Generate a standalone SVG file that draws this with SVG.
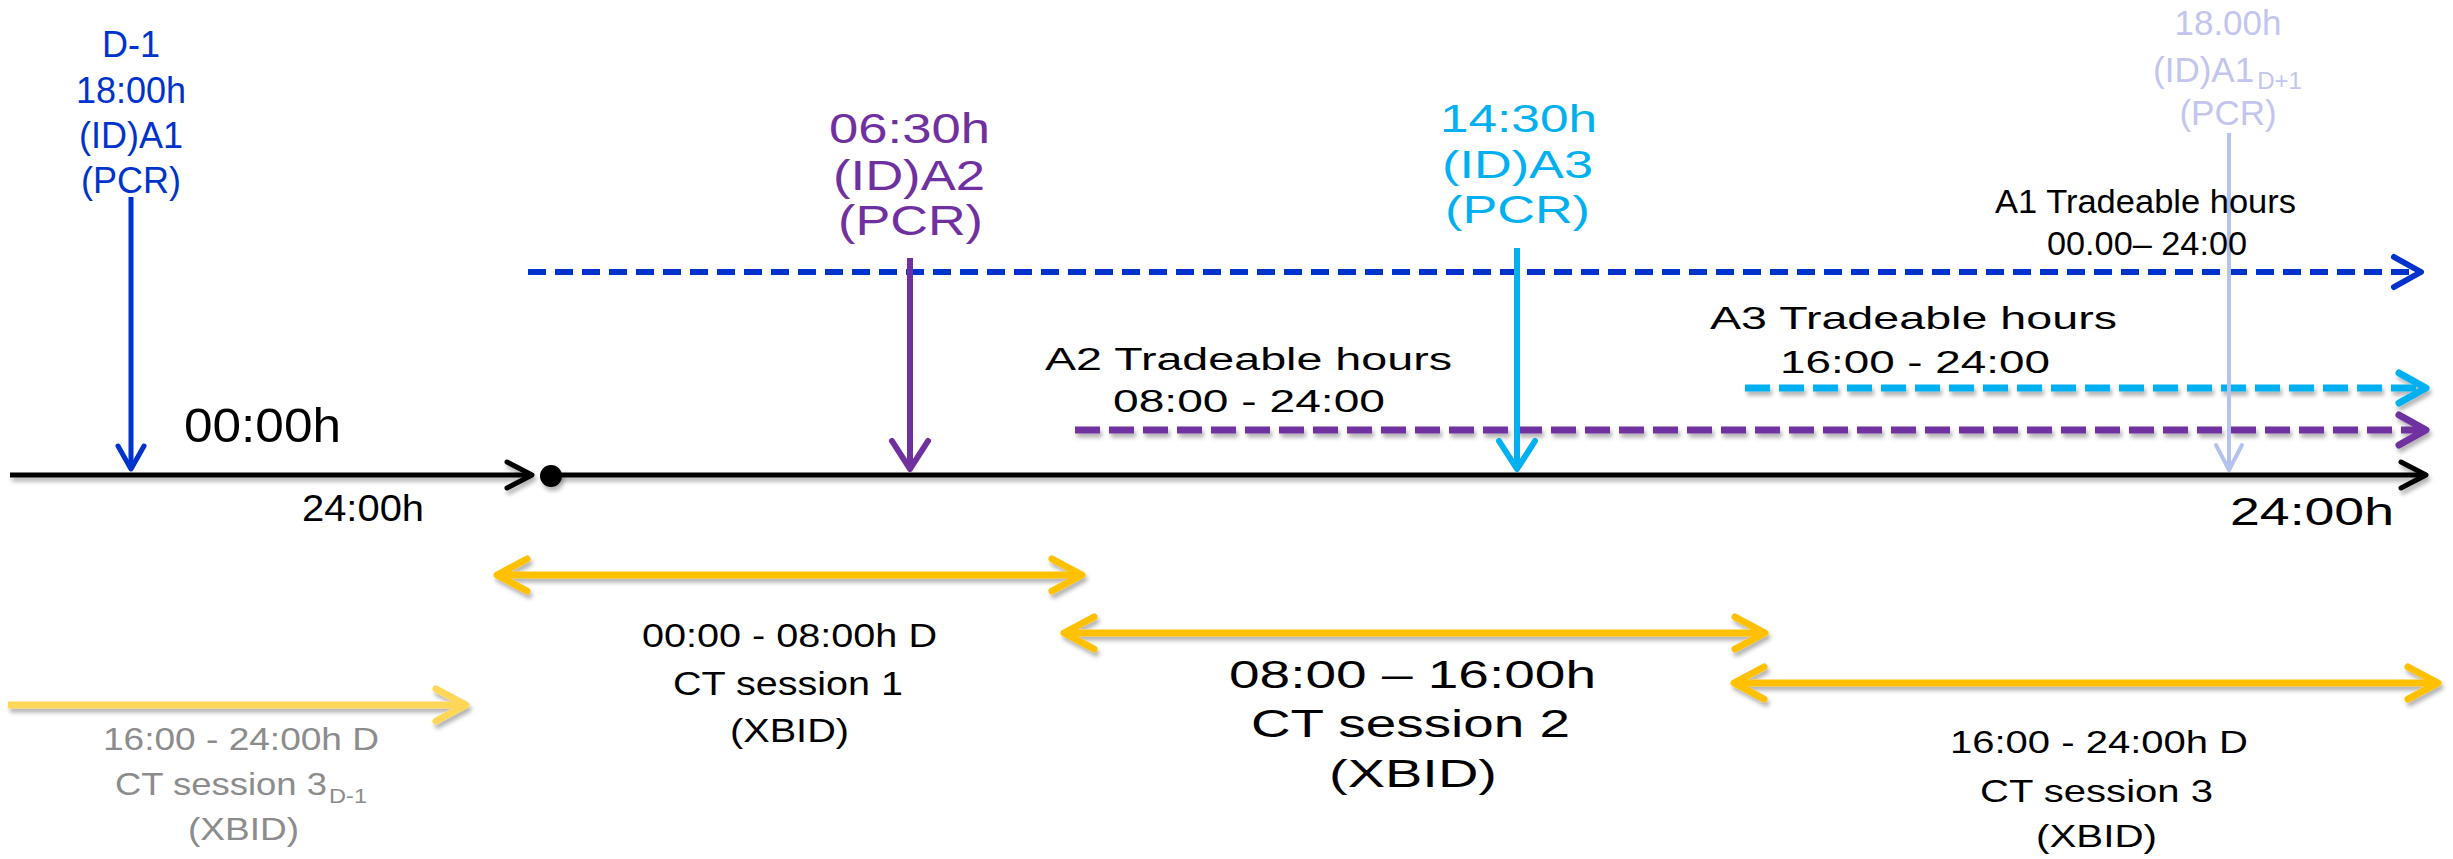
<svg xmlns="http://www.w3.org/2000/svg" width="2453" height="859" viewBox="0 0 2453 859">
<style>
text{font-family:"Liberation Sans",Arial,sans-serif}
.blue{fill:#0033CC}.purple{fill:#7030A0}.cyan{fill:#00B0F0}.lav{fill:#C3C5EF}.blk{fill:#000}.gray{fill:#8C8C8C}
.mid{text-anchor:middle}
.axis{stroke:#000;stroke-width:5;fill:none}
.vb{stroke:#0033CC;stroke-width:5;fill:none}
.vp{stroke:#7030A0;stroke-width:6;fill:none}
.vc{stroke:#00B0F0;stroke-width:6;fill:none}
.vl{stroke:#B4C2EE;stroke-width:4;fill:none}
.db{stroke:#0033CC;stroke-width:6;stroke-dasharray:18 9;fill:none}
.dp{stroke:#7030A0;stroke-width:7;stroke-dasharray:25 9;fill:none}
.dc{stroke:#00B0F0;stroke-width:7;stroke-dasharray:25 9;fill:none}
.gold{stroke:#FFC000;stroke-width:7;fill:none}
.goldl{stroke:#FFD657;stroke-width:7;fill:none}
</style>
<defs>
<filter id="sh" filterUnits="userSpaceOnUse" x="0" y="0" width="2453" height="859">
<feDropShadow dx="2" dy="4" stdDeviation="2" flood-color="#000" flood-opacity="0.3"/>
</filter>
<marker id="m-axis" markerUnits="userSpaceOnUse" viewBox="-40 -20 50 40" markerWidth="50" markerHeight="40" refX="0" refY="0" orient="auto" overflow="visible">
<path d="M-25,-13 L0,0 L-25,13" fill="none" stroke="#000" stroke-width="5" stroke-linecap="round" stroke-linejoin="round"/></marker>
<marker id="m-vb" markerUnits="userSpaceOnUse" viewBox="-40 -20 50 40" markerWidth="50" markerHeight="40" refX="0" refY="0" orient="auto" overflow="visible">
<path d="M-23,-13 L0,0 L-23,13" fill="none" stroke="#0033CC" stroke-width="5" stroke-linecap="round" stroke-linejoin="round"/></marker>
<marker id="m-vp" markerUnits="userSpaceOnUse" viewBox="-40 -20 50 40" markerWidth="50" markerHeight="40" refX="0" refY="0" orient="auto" overflow="visible">
<path d="M-28,-18 L0,0 L-28,18" fill="none" stroke="#7030A0" stroke-width="6" stroke-linecap="round" stroke-linejoin="round"/></marker>
<marker id="m-vc" markerUnits="userSpaceOnUse" viewBox="-40 -20 50 40" markerWidth="50" markerHeight="40" refX="0" refY="0" orient="auto" overflow="visible">
<path d="M-28,-18 L0,0 L-28,18" fill="none" stroke="#00B0F0" stroke-width="6" stroke-linecap="round" stroke-linejoin="round"/></marker>
<marker id="m-vl" markerUnits="userSpaceOnUse" viewBox="-40 -20 50 40" markerWidth="50" markerHeight="40" refX="0" refY="0" orient="auto" overflow="visible">
<path d="M-25,-13 L0,0 L-25,13" fill="none" stroke="#B4C2EE" stroke-width="4" stroke-linecap="round" stroke-linejoin="round"/></marker>
<marker id="m-db" markerUnits="userSpaceOnUse" viewBox="-40 -20 50 40" markerWidth="50" markerHeight="40" refX="0" refY="0" orient="auto" overflow="visible">
<path d="M-27,-15 L0,0 L-27,15" fill="none" stroke="#0033CC" stroke-width="6" stroke-linecap="round" stroke-linejoin="round"/></marker>
<marker id="m-dp" markerUnits="userSpaceOnUse" viewBox="-40 -20 50 40" markerWidth="50" markerHeight="40" refX="0" refY="0" orient="auto" overflow="visible">
<path d="M-27,-15 L0,0 L-27,15" fill="none" stroke="#7030A0" stroke-width="7" stroke-linecap="round" stroke-linejoin="round"/></marker>
<marker id="m-dc" markerUnits="userSpaceOnUse" viewBox="-40 -20 50 40" markerWidth="50" markerHeight="40" refX="0" refY="0" orient="auto" overflow="visible">
<path d="M-27,-15 L0,0 L-27,15" fill="none" stroke="#00B0F0" stroke-width="7" stroke-linecap="round" stroke-linejoin="round"/></marker>
<marker id="m-gold" markerUnits="userSpaceOnUse" viewBox="-40 -20 50 40" markerWidth="50" markerHeight="40" refX="0" refY="0" orient="auto-start-reverse" overflow="visible">
<path d="M-30,-16 L0,0 L-30,16" fill="none" stroke="#FFC000" stroke-width="7" stroke-linecap="round" stroke-linejoin="round"/></marker>
<marker id="m-goldl" markerUnits="userSpaceOnUse" viewBox="-40 -20 50 40" markerWidth="50" markerHeight="40" refX="0" refY="0" orient="auto" overflow="visible">
<path d="M-30,-16 L0,0 L-30,16" fill="none" stroke="#FFD657" stroke-width="7" stroke-linecap="round" stroke-linejoin="round"/></marker>
</defs>
<rect width="2453" height="859" fill="#fff"/>

<g id="connectors">
<path class="axis" d="M10,475 H532" marker-end="url(#m-axis)" filter="url(#sh)"/>
<circle cx="551" cy="476" r="11" fill="#000" filter="url(#sh)"/>
<path class="axis" d="M551,475 H2426" marker-end="url(#m-axis)" filter="url(#sh)"/>
<path class="db" d="M528,272 H2421" marker-end="url(#m-db)"/>
<path class="dc" d="M1745,388 H2426" marker-end="url(#m-dc)" filter="url(#sh)"/>
<path class="dp" d="M1075,430 H2426" marker-end="url(#m-dp)" filter="url(#sh)"/>
<path class="vb" d="M131,197 V469" marker-end="url(#m-vb)"/>
<path class="vp" d="M910,258 V469" marker-end="url(#m-vp)"/>
<path class="vc" d="M1517,248 V469" marker-end="url(#m-vc)"/>
<path class="vl" d="M2229,133 V470" marker-end="url(#m-vl)"/>
<path class="gold" d="M497,575 H1082" marker-start="url(#m-gold)" marker-end="url(#m-gold)" filter="url(#sh)"/>
<path class="gold" d="M1064,633 H1765" marker-start="url(#m-gold)" marker-end="url(#m-gold)" filter="url(#sh)"/>
<path class="gold" d="M1734,683 H2438" marker-start="url(#m-gold)" marker-end="url(#m-gold)" filter="url(#sh)"/>
<path class="goldl" d="M8,705 H466" marker-end="url(#m-goldl)" filter="url(#sh)"/>
</g>

<g id="node-a1" font-size="36">
<text class="blue mid" x="131" y="57">D-1</text>
<text class="blue mid" x="131" y="103">18:00h</text>
<text class="blue mid" x="131" y="148">(ID)A1</text>
<text class="blue mid" x="131" y="193">(PCR)</text>
</g>

<g id="node-a2" font-size="42">
<text class="purple" x="829" y="143" textLength="161" lengthAdjust="spacingAndGlyphs">06:30h</text>
<text class="purple" x="833" y="190" textLength="152" lengthAdjust="spacingAndGlyphs">(ID)A2</text>
<text class="purple" x="838" y="235" textLength="145" lengthAdjust="spacingAndGlyphs">(PCR)</text>
</g>

<g id="node-a3" font-size="38">
<text class="cyan" x="1440" y="132" textLength="157" lengthAdjust="spacingAndGlyphs">14:30h</text>
<text class="cyan" x="1442" y="178" textLength="151" lengthAdjust="spacingAndGlyphs">(ID)A3</text>
<text class="cyan" x="1445" y="223" textLength="145" lengthAdjust="spacingAndGlyphs">(PCR)</text>
</g>

<g id="node-a1-next" font-size="35">
<text class="lav mid" x="2228" y="35">18.00h</text>
<text class="lav" x="2153" y="82">(ID)A1<tspan font-size="24" dy="7" dx="3">D+1</tspan></text>
<text class="lav mid" x="2228" y="125">(PCR)</text>
</g>

<g id="label-a1-hours" font-size="33">
<text class="blk" x="1995" y="213" textLength="301" lengthAdjust="spacingAndGlyphs">A1 Tradeable hours</text>
<text class="blk" x="2047" y="255" textLength="200" lengthAdjust="spacingAndGlyphs">00.00– 24:00</text>
</g>

<g id="label-a3-hours" font-size="32">
<text class="blk" x="1710" y="329" textLength="407" lengthAdjust="spacingAndGlyphs">A3 Tradeable hours</text>
<text class="blk" x="1780" y="373" textLength="270" lengthAdjust="spacingAndGlyphs">16:00 - 24:00</text>
</g>

<g id="label-a2-hours" font-size="31">
<text class="blk" x="1045" y="370" textLength="407" lengthAdjust="spacingAndGlyphs">A2 Tradeable hours</text>
<text class="blk" x="1113" y="412" textLength="272" lengthAdjust="spacingAndGlyphs">08:00 - 24:00</text>
</g>

<g id="label-0000">
<text class="blk" x="184" y="442" font-size="48" textLength="157" lengthAdjust="spacingAndGlyphs">00:00h</text>
</g>
<g id="label-2400-left">
<text class="blk" x="302" y="521" font-size="36" textLength="122" lengthAdjust="spacingAndGlyphs">24:00h</text>
</g>
<g id="label-2400-right">
<text class="blk" x="2230" y="525" font-size="39" textLength="164" lengthAdjust="spacingAndGlyphs">24:00h</text>
</g>

<g id="session-3-prev" font-size="32">
<text class="gray" x="103" y="750" textLength="276" lengthAdjust="spacingAndGlyphs">16:00 - 24:00h D</text>
<text class="gray" x="115" y="795" textLength="212" lengthAdjust="spacingAndGlyphs">CT session 3</text>
<text class="gray" x="329" y="803" font-size="20" textLength="38" lengthAdjust="spacingAndGlyphs">D-1</text>
<text class="gray" x="188" y="840" textLength="111" lengthAdjust="spacingAndGlyphs">(XBID)</text>
</g>

<g id="session-1" font-size="33">
<text class="blk" x="642" y="647" textLength="295" lengthAdjust="spacingAndGlyphs">00:00 - 08:00h D</text>
<text class="blk" x="673" y="695" textLength="230" lengthAdjust="spacingAndGlyphs">CT session 1</text>
<text class="blk" x="730" y="742" textLength="119" lengthAdjust="spacingAndGlyphs">(XBID)</text>
</g>

<g id="session-2" font-size="39">
<text class="blk" x="1229" y="688" textLength="367" lengthAdjust="spacingAndGlyphs">08:00 – 16:00h</text>
<text class="blk" x="1251" y="737" textLength="319" lengthAdjust="spacingAndGlyphs">CT session 2</text>
<text class="blk" x="1329" y="787" textLength="168" lengthAdjust="spacingAndGlyphs">(XBID)</text>
</g>

<g id="session-3" font-size="32">
<text class="blk" x="1950" y="753" textLength="298" lengthAdjust="spacingAndGlyphs">16:00 - 24:00h D</text>
<text class="blk" x="1980" y="802" textLength="233" lengthAdjust="spacingAndGlyphs">CT session 3</text>
<text class="blk" x="2036" y="847" textLength="121" lengthAdjust="spacingAndGlyphs">(XBID)</text>
</g>
</svg>
